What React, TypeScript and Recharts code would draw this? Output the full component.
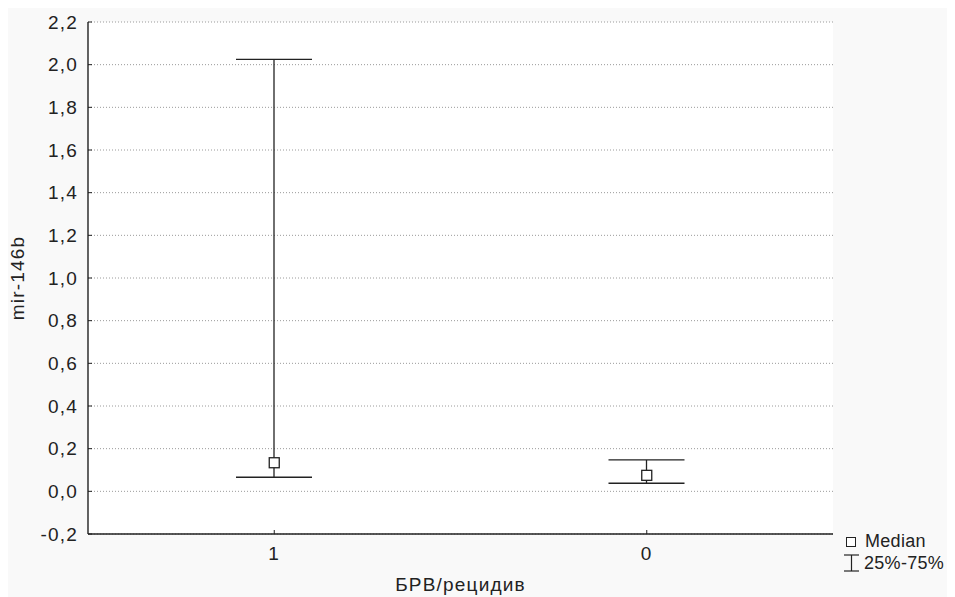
import React from 'react';
import { ComposedChart, Bar, Line, XAxis, YAxis, CartesianGrid, Label } from 'recharts';

// groups on the x axis (БРВ/рецидив)
const categories = ['1', '0'];
// mir-146b medians and quartiles per group
const medians = [0.134, 0.075];
const q25 = [0.066, 0.038];
const q75 = [2.025, 0.147];
const yTicks = [-0.2, 0, 0.2, 0.4, 0.6, 0.8, 1.0, 1.2, 1.4, 1.6, 1.8, 2.0, 2.2];

const FONT = '"Liberation Sans", Arial, sans-serif';
const INK = '#222';
const FS = 19;

const data = categories.map((name, i) => ({
  name,
  median: medians[i],
  range: [q25[i], q75[i]],
}));

const fmt = (v: number) => v.toFixed(1).replace('.', ',');

const Whisker = (props: any) => {
  const { x, y, width, height } = props;
  if (x == null || y == null) return null;
  const top = Math.min(y, y + height);
  const bottom = Math.max(y, y + height);
  const cx = x + width / 2;
  return (
    <g stroke={INK} strokeWidth={1.3}>
      <line x1={cx} x2={cx} y1={top} y2={bottom} />
      <line x1={x} x2={x + width} y1={top} y2={top} />
      <line x1={x} x2={x + width} y1={bottom} y2={bottom} />
    </g>
  );
};

const MedianDot = (props: any) => {
  const { cx, cy } = props;
  if (cx == null || cy == null) return null;
  return <rect x={cx - 5} y={cy - 5} width={10} height={10} fill="#fff" stroke={INK} strokeWidth={1.3} />;
};

const tickStyle = { fill: INK, fontSize: FS, fontFamily: FONT };
const legendText = {
  position: 'absolute' as const,
  fontSize: 18,
  lineHeight: '22px',
  color: INK,
  letterSpacing: '0.3px',
  whiteSpace: 'nowrap' as const,
};

export default function App() {
  return (
    <div
      style={{
        position: 'relative',
        width: 947,
        height: 589,
        background: '#f9f9f9',
        fontFamily: FONT,
        letterSpacing: '1.2px',
      }}
    >
      <ComposedChart
        width={947}
        height={589}
        data={data}
        margin={{ top: 14, right: 122, bottom: 0, left: 0 }}
      >
        <CartesianGrid vertical={false} stroke="#9a9a9a" strokeDasharray="1 2" fill="#fff" />
        <XAxis
          dataKey="name"
          height={63}
          tick={tickStyle}
          tickSize={-4}
          tickMargin={17}
          axisLine={{ stroke: INK, strokeWidth: 1.4 }}
          tickLine={{ stroke: INK }}
        >
          <Label value="БРВ/рецидив" position="insideBottom" offset={6} fill={INK} fontSize={FS} fontFamily={FONT} />
        </XAxis>
        <XAxis
          xAxisId="top"
          orientation="top"
          dataKey="name"
          height={0}
          tick={false}
          tickSize={-4}
          axisLine={{ stroke: INK, strokeWidth: 1.4 }}
          tickLine={{ stroke: INK }}
        />
        <YAxis
          type="number"
          domain={[-0.2, 2.2]}
          ticks={yTicks}
          tickFormatter={fmt}
          width={80}
          tick={tickStyle}
          tickSize={-4}
          tickMargin={14}
          interval={0}
          axisLine={{ stroke: INK, strokeWidth: 1.4 }}
          tickLine={{ stroke: INK }}
        >
          <Label value="mir-146b" angle={-90} position="insideLeft" offset={9} fill={INK} fontSize={FS} fontFamily={FONT} style={{ textAnchor: 'middle' }} />
        </YAxis>
        <YAxis
          yAxisId="right"
          orientation="right"
          type="number"
          domain={[-0.2, 2.2]}
          ticks={yTicks}
          width={0}
          tick={false}
          tickSize={-4}
          interval={0}
          axisLine={{ stroke: INK, strokeWidth: 1.4 }}
          tickLine={{ stroke: INK }}
        />
        <Bar dataKey="range" barSize={76} shape={<Whisker />} isAnimationActive={false} />
        <Line
          dataKey="median"
          stroke="none"
          dot={<MedianDot />}
          activeDot={false}
          isAnimationActive={false}
        />
      </ComposedChart>
      <div style={{ position: 'absolute', left: 838, top: 529, width: 10, height: 10 }}>
        <svg width={10} height={10} style={{ display: 'block' }}>
          <rect x={0.5} y={0.5} width={9} height={9} fill="#fff" stroke={INK} strokeWidth={1} />
        </svg>
      </div>
      <div style={{ ...legendText, left: 857, top: 522 }}>Median</div>
      <div style={{ position: 'absolute', left: 835, top: 546, width: 17, height: 18 }}>
        <svg width={17} height={18} style={{ display: 'block' }}>
          <g stroke={INK} strokeWidth={1.2}>
            <line x1={1} x2={16} y1={1} y2={1} />
            <line x1={8.5} x2={8.5} y1={1} y2={17} />
            <line x1={1} x2={16} y1={17} y2={17} />
          </g>
        </svg>
      </div>
      <div style={{ ...legendText, left: 856, top: 544 }}>25%-75%</div>
    </div>
  );
}
